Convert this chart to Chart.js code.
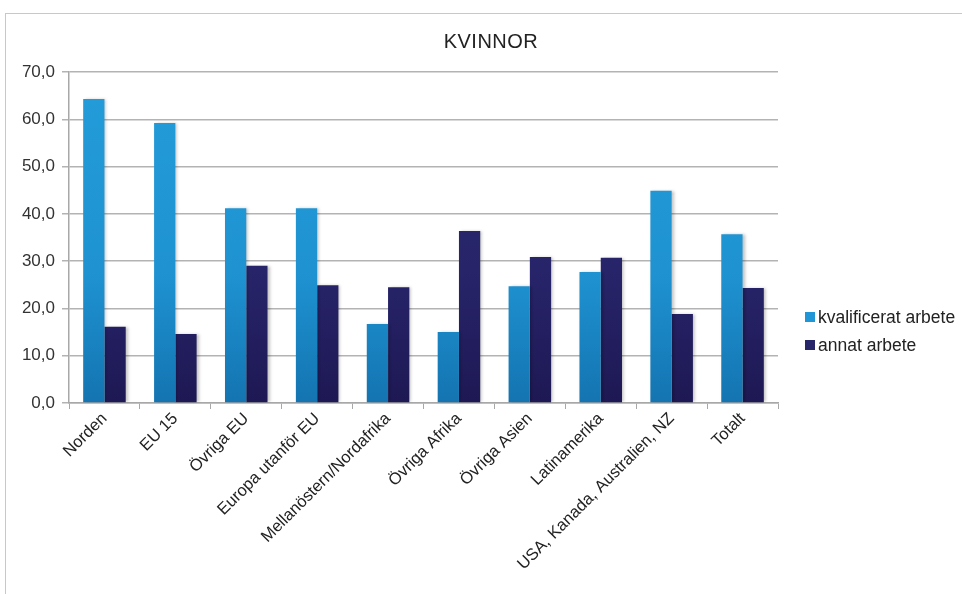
<!DOCTYPE html>
<html>
<head>
<meta charset="utf-8">
<script src="https://cdn.jsdelivr.net/npm/chart.js@4/dist/chart.umd.min.js"></script>
<style>
  body { margin: 0; background: #fff; font-family: "Liberation Sans", Arial, sans-serif; }
  #wrap { position: relative; width: 962px; height: 594px; overflow: hidden; }
  #frame { position: absolute; left: 5px; top: 13px; width: 1000px; height: 700px;
           border-top: 1px solid #c8c8c8; border-left: 1px solid #c8c8c8; }
  canvas { position: absolute; left: 0; top: 0; }
  #title { position: absolute; left: 0; width: 982px; top: 30px; text-align: center;
           font-size: 20px; color: #222; letter-spacing: 0.5px; }
  .leg { position: absolute; left: 805px; font-size: 17.5px; color: #222; white-space: nowrap; }
  .leg span { display: inline-block; width: 10px; height: 10px; margin-right: 3px; vertical-align: 1px; }
</style>
</head>
<body>
<div id="wrap">
  <div id="frame"></div>
  <canvas id="chart" width="962" height="594"></canvas>
  <div id="title">KVINNOR</div>
  <div class="leg" style="top:307px"><span style="background:#2196d6"></span>kvalificerat arbete</div>
  <div class="leg" style="top:335px"><span style="background:#27266a"></span>annat arbete</div>
</div>
<script>
const categories = ['Norden', 'EU 15', 'Övriga EU', 'Europa utanför EU', 'Mellanöstern/Nordafrika',
  'Övriga Afrika', 'Övriga Asien', 'Latinamerika', 'USA, Kanada, Australien, NZ', 'Totalt'];
const kvalificerat = [64.3, 59.2, 41.2, 41.2, 16.7, 15.0, 24.7, 27.7, 44.9, 35.7];
const annat = [16.1, 14.6, 29.0, 24.9, 24.5, 36.4, 30.9, 30.7, 18.8, 24.3];
const yTicks = [0, 10, 20, 30, 40, 50, 60, 70];

function grad(ctx, stops) {
  const area = ctx.chart.chartArea;
  if (!area) return stops[0][1];
  const g = ctx.chart.ctx.createLinearGradient(0, area.top, 0, area.bottom);
  stops.forEach(s => g.addColorStop(s[0], s[1]));
  return g;
}

const shadow = {
  id: 'shadow',
  beforeDatasetsDraw(chart) {
    const c = chart.ctx;
    c.save();
    c.shadowColor = 'rgba(0,0,0,0.25)';
    c.shadowOffsetX = 2;
    c.shadowOffsetY = 0;
    c.shadowBlur = 3;
  },
  afterDatasetsDraw(chart) { chart.ctx.restore(); }
};

new Chart(document.getElementById('chart').getContext('2d'), {
  type: 'bar',
  data: {
    labels: categories,
    datasets: [
      { label: 'kvalificerat arbete', data: kvalificerat,
        backgroundColor: c => grad(c, [[0, '#249cda'], [0.6, '#1f93d2'], [1, '#1474b1']]) },
      { label: 'annat arbete', data: annat,
        backgroundColor: c => grad(c, [[0, '#2c2b70'], [0.6, '#27246a'], [1, '#1e1954']]) }
    ]
  },
  plugins: [shadow],
  options: {
    responsive: false,
    animation: false,
    categoryPercentage: 0.6,
    barPercentage: 1.0,
    layout: { padding: { left: 10, right: 184, top: 72, bottom: 0 } },
    plugins: {
      legend: { display: false },
      tooltip: { enabled: false }
    },
    scales: {
      x: {
        grid: { drawOnChartArea: false, drawTicks: true, tickLength: 6, color: '#a8a8a8', offset: true },
        border: { color: '#a8a8a8', width: 1.5 },
        ticks: { color: '#222', font: { family: 'Liberation Sans', size: 16.5 },
                 maxRotation: 45, minRotation: 45, autoSkip: false, padding: 0 },
        afterFit: s => { s.height = 191; }
      },
      y: {
        min: 0, max: 70,
        afterBuildTicks: s => { s.ticks = yTicks.map(v => ({ value: v })); },
        grid: { color: '#b3b3b3', lineWidth: 1.5, tickLength: 7 },
        border: { color: '#a8a8a8', width: 1.5 },
        ticks: { color: '#333', font: { family: 'Liberation Sans', size: 17 }, padding: 7,
                 callback: v => v.toFixed(1).replace('.', ',') },
        afterFit: s => { s.width = 59; }
      }
    }
  }
});
</script>
</body>
</html>
